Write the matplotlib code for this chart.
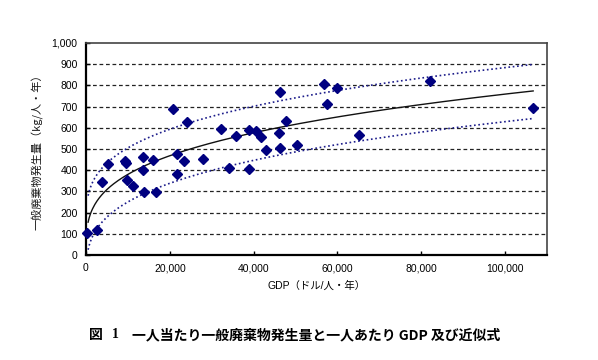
import numpy as np
import matplotlib
matplotlib.use("Agg")
import matplotlib.pyplot as plt

plt.rcParams['font.family'] = ['Liberation Sans', 'Noto Sans CJK JP', 'DejaVu Sans']

# GDP (thousand USD / person / year)
gdp_k = [0.3, 2.7, 3.8, 5.3, 9.2, 9.5, 9.8, 11.1, 13.6, 13.6, 13.9, 16.0, 16.7,
         20.7, 21.6, 21.6, 24.0, 23.4, 27.8, 32.2, 35.9, 34.1, 38.9, 40.5, 41.8,
         43.0, 39.0, 46.4, 56.9, 59.8, 57.4, 47.7, 46.0, 46.4, 50.4, 65.1, 82.0, 106.7]
# Waste generation (kg / person / year)
waste = [105, 118, 343, 428, 445, 436, 354, 324, 460, 401, 296, 449, 296,
         690, 477, 381, 627, 444, 455, 594, 559, 411, 590, 587, 558,
         494, 405, 768, 806, 787, 713, 633, 576, 507, 520, 565, 823, 694]

# Approximation curve y = c * x^p with band offsets
fit_c = 24.0
fit_p = 0.3
band_upper = 125
band_lower = 130
fit_range = (500, 106700)

yticks = list(range(0, 1001, 100))
xticks = [0, 20000, 40000, 60000, 80000, 100000]

fig = plt.figure(figsize=(5.98, 3.6), dpi=100)
ax = fig.add_axes([86/598, 1-255/360, (547-86)/598, (255-43)/360])

for y in yticks[1:-1]:
    ax.axhline(y, color='#222222', lw=0.9, dashes=(3.0, 2.2), zorder=1)

xs = np.linspace(fit_range[0], fit_range[1], 400)
fit = fit_c * xs ** fit_p
ax.plot(xs, fit, color='#111111', lw=1.0, zorder=2)
ax.plot(xs, fit + band_upper, color='#1c1c8a', lw=1.2, ls=(0, (1.0, 1.6)), zorder=2)
ax.plot(xs, fit - band_lower, color='#1c1c8a', lw=1.2, ls=(0, (1.0, 1.6)), zorder=2)

ax.plot(np.array(gdp_k) * 1000, waste, linestyle='none', marker='D', ms=5.5,
        color='#000080', zorder=3, clip_on=False)

ax.set_xlim(0, 110000)
ax.set_ylim(0, 1000)
ax.set_xticks(xticks)
ax.set_xticklabels([f"{v:,}" for v in xticks])
ax.set_yticks(yticks)
ax.set_yticklabels([f"{v:,}" for v in yticks])
ax.tick_params(direction='in', length=3, width=1, labelsize=7.5, pad=6, colors='black')
for s in ['left', 'bottom']:
    ax.spines[s].set_linewidth(1.6)
    ax.spines[s].set_color('black')
for s in ['top', 'right']:
    ax.spines[s].set_linewidth(1.2)
    ax.spines[s].set_color('#444444')

ax.set_xlabel("GDP（ドル/人・年）", fontsize=7.5, labelpad=5,
              family=['Liberation Sans', 'Noto Sans CJK JP'])
ax.set_ylabel("一般廃棄物発生量（kg/人・年）", fontsize=8, labelpad=6,
              family=['Noto Sans CJK JP', 'DejaVu Sans'], color='#1a1a1a')

fig.text(89/598, 1-335/360, "図", fontsize=10, fontweight='bold',
         family=['Noto Sans CJK JP'], va='center', ha='left')
fig.text(112/598, 1-335/360, "1", fontsize=10, fontweight='bold',
         family=['Liberation Serif'], va='center', ha='left')
fig.text(132/598, 1-335/360, "一人当たり一般廃棄物発生量と一人あたり GDP 及び近似式",
         fontsize=10, fontweight='bold', family=['Noto Sans CJK JP'], va='center', ha='left')

fig.savefig("out.png", dpi=100)
